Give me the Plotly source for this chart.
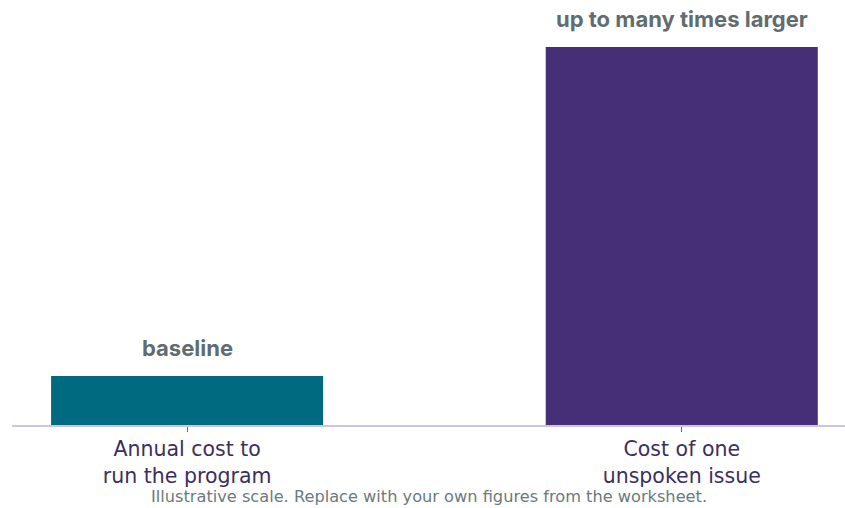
import plotly.graph_objects as go

categories = ["Annual cost to<br>run the program", "Cost of one<br>unspoken issue"]
values = [1.0, 7.7]
bar_labels = ["baseline", "up to many times larger"]
colors = ["#006b80", "#472f77"]
footer = "Illustrative scale. Replace with your own figures from the worksheet."

FONT = "Inter, Noto Sans, sans-serif"
WIDE = "DejaVu Sans, Inter, sans-serif"

fig = go.Figure()
fig.add_trace(go.Bar(
    x=categories, y=values, marker=dict(color=colors, line=dict(width=0)),
    width=0.55, hoverinfo="skip",
))

for c, v, t in zip(categories, values, bar_labels):
    fig.add_annotation(x=c, y=v, text=f"<b>{t}</b>", showarrow=False,
                       xref="x", yref="y", yanchor="bottom", yshift=13,
                       font=dict(family=FONT, size=22, color="#5f6d70"))

fig.add_annotation(x=0.5, y=0, xref="paper", yref="paper", yshift=-82,
                   text=footer, showarrow=False, yanchor="bottom",
                   borderpad=0,
                   font=dict(family=WIDE, size=16.2, color="#6b7a7c"))

fig.update_layout(
    width=845, height=508,
    margin=dict(l=12, r=0, t=0, b=83),
    paper_bgcolor="white", plot_bgcolor="white",
    showlegend=False,
    bargap=0.45,
    xaxis=dict(
        range=[-0.354, 1.33],
        showline=True, linecolor="#cbc5df", linewidth=1.5,
        ticks="outside", ticklen=5, tickcolor="#6b6b6b", tickwidth=1,
        tickfont=dict(family=WIDE, size=20.5, color="#3b2f5e"),
        showgrid=False,
    ),
    yaxis=dict(range=[0, 8.66], visible=False, showgrid=False, zeroline=False),
)

fig.write_html("out.html")
